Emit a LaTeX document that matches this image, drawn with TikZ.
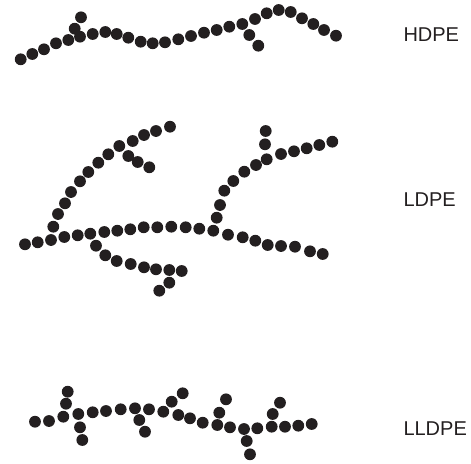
\documentclass[tikz,border=0pt]{standalone}
\usepackage{fontspec}
\setmainfont{Liberation Sans}
\definecolor{ink}{HTML}{231F20}
\begin{document}
\begin{tikzpicture}[x=1pt,y=-1pt,
  bead/.style={fill=ink},
  label/.style={anchor=base west,inner sep=0pt,text=ink,font=\fontsize{20}{24}\selectfont}]
\useasboundingbox (0,0) rectangle (471,463);
\def\r{5.9}
% HDPE: long chain with two short side groups
\foreach \x/\y in {20.7/59.3,32.3/54,44/49.3,56/43.3,68.3/40,80/36.7,74.7/28.7,81/17.3,
  92.7/34,105.3/32,116.7/34,128.3/37.7,140.7/41.7,152.7/43.3,165/42.3,178.3/39.3,
  191/36,204/32.7,216.7/30,229.3/26.7,242.3/24,249.3/35,258.3/45.7,255/19,266.7/13.3,
  278.7/10,290.7/12,302/18.3,313.3/24,324/30,336/35.7}
  \fill[bead] (\x,\y) circle (\r);
% LDPE: backbone
\foreach \x/\y in {25/244.3,37.7/242.3,51/240,64.3/237,77.7/235.3,90.3/233.7,104.3/232,
  117.3/230.7,130.3/229.3,143.7/227.3,157.3/227.3,171.3/226.7,185.7/227.3,199.3/228.7,
  213.3/230.7,228/234.7,242.7/237.3,255.3/240.7,267.7/245,281/246,295/246.7,310/251.3,
  322.7/254}
  \fill[bead] (\x,\y) circle (\r);
% LDPE: upper left long branch and its side branch
\foreach \x/\y in {53.3/226.7,58/214,65/203.3,71/192,80/181.3,88.3/172,98.3/162.7,
  108.3/154.3,119.3/146,132.7/141,144/135,156/131,170/126.7,
  128.3/156,137.7/162,149.3/167.3}
  \fill[bead] (\x,\y) circle (\r);
% LDPE: lower branch
\foreach \x/\y in {96/245.7,105.3/255.3,116.7/261,130.7/264,144/267.3,156/269.3,
  169.3/270,181.7/271,169.3/282.7,159.3/290.7}
  \fill[bead] (\x,\y) circle (\r);
% LDPE: upper right branch
\foreach \x/\y in {216.7/217.7,220/205,224.3/190.7,233.3/181,244.3/171.7,256/165,
  266.7/159.3,281/154,294/151.3,306.7/148.3,319.3/145,332.3/141.7,265/144.3,265.7/131}
  \fill[bead] (\x,\y) circle (\r);
% LLDPE: chain with many short branches
\foreach \x/\y in {35/421.7,49/421,63.3/416.7,66/403.7,67.7/391.7,78.3/414,80/427.3,
  82.3/440,92.7/412.3,106/411,120.7/409.3,135/408.3,139.3/420,145/431.7,149/409.3,
  163.3/411.7,171.7/401.7,182.7/393.3,178.3/415,190/418.3,202.7/422.7,217.3/425,
  219.3/412.7,226/399.3,230/427.3,244/429,246.7/441,250/454.3,257.3/428.3,271.7/426.7,
  272.7/414,280/402.7,285/426.7,298.3/425.7,311.7/424}
  \fill[bead] (\x,\y) circle (\r);
\node[label] (hdpe) at (403.3,41.7) {HDPE};
\node[label] (ldpe) at (403.3,206.7) {LDPE};
\node[label] (lldpe) at (403.3,435.3) {LLDPE};
\end{tikzpicture}
\end{document}
